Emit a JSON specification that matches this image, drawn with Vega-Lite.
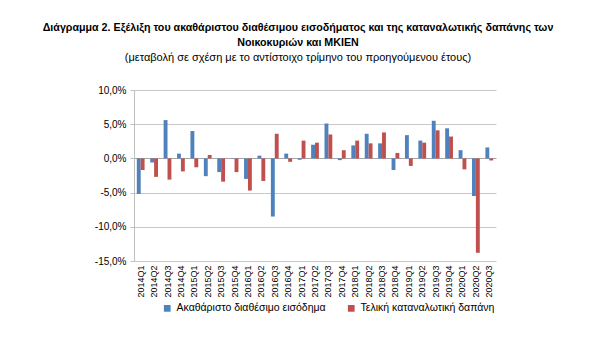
{
  "$schema": "https://vega.github.io/schema/vega-lite/v6.json",
  "autosize": "none",
  "width": 362,
  "height": 171,
  "padding": {"left": 134, "top": 90, "right": 104, "bottom": 96},
  "background": "white",
  "title": {
    "text": ["Διάγραμμα 2. Εξέλιξη του ακαθάριστου διαθέσιμου εισοδήματος και της καταναλωτικής δαπάνης των", "Νοικοκυριών και ΜΚΙΕΝ"],
    "subtitle": "(μεταβολή σε σχέση με το αντίστοιχο τρίμηνο του προηγούμενου έτους)",
    "anchor": "middle",
    "frame": "group",
    "dx": -17,
    "font": "Liberation Sans",
    "fontSize": 10.7,
    "fontWeight": "bold",
    "color": "#000000",
    "lineHeight": 15,
    "subtitleFont": "Liberation Sans",
    "subtitleFontSize": 11,
    "subtitleColor": "#000000",
    "subtitlePadding": 3,
    "offset": 21
  },
  "data": {
    "values": [
      {"q": "2014Q1", "series": "Ακαθάριστο διαθέσιμο εισόδημα", "value": -5.2},
      {"q": "2014Q1", "series": "Τελική καταναλωτική δαπάνη", "value": -1.7},
      {"q": "2014Q2", "series": "Ακαθάριστο διαθέσιμο εισόδημα", "value": -0.6},
      {"q": "2014Q2", "series": "Τελική καταναλωτική δαπάνη", "value": -2.7},
      {"q": "2014Q3", "series": "Ακαθάριστο διαθέσιμο εισόδημα", "value": 5.6},
      {"q": "2014Q3", "series": "Τελική καταναλωτική δαπάνη", "value": -3.1},
      {"q": "2014Q4", "series": "Ακαθάριστο διαθέσιμο εισόδημα", "value": 0.7},
      {"q": "2014Q4", "series": "Τελική καταναλωτική δαπάνη", "value": -1.9},
      {"q": "2015Q1", "series": "Ακαθάριστο διαθέσιμο εισόδημα", "value": 4.0},
      {"q": "2015Q1", "series": "Τελική καταναλωτική δαπάνη", "value": -1.3},
      {"q": "2015Q2", "series": "Ακαθάριστο διαθέσιμο εισόδημα", "value": -2.6},
      {"q": "2015Q2", "series": "Τελική καταναλωτική δαπάνη", "value": 0.5},
      {"q": "2015Q3", "series": "Ακαθάριστο διαθέσιμο εισόδημα", "value": -2.0},
      {"q": "2015Q3", "series": "Τελική καταναλωτική δαπάνη", "value": -3.4},
      {"q": "2015Q4", "series": "Ακαθάριστο διαθέσιμο εισόδημα", "value": -0.05},
      {"q": "2015Q4", "series": "Τελική καταναλωτική δαπάνη", "value": -2.0},
      {"q": "2016Q1", "series": "Ακαθάριστο διαθέσιμο εισόδημα", "value": -3.0},
      {"q": "2016Q1", "series": "Τελική καταναλωτική δαπάνη", "value": -4.7},
      {"q": "2016Q2", "series": "Ακαθάριστο διαθέσιμο εισόδημα", "value": 0.4},
      {"q": "2016Q2", "series": "Τελική καταναλωτική δαπάνη", "value": -3.3},
      {"q": "2016Q3", "series": "Ακαθάριστο διαθέσιμο εισόδημα", "value": -8.5},
      {"q": "2016Q3", "series": "Τελική καταναλωτική δαπάνη", "value": 3.6},
      {"q": "2016Q4", "series": "Ακαθάριστο διαθέσιμο εισόδημα", "value": 0.7},
      {"q": "2016Q4", "series": "Τελική καταναλωτική δαπάνη", "value": -0.5},
      {"q": "2017Q1", "series": "Ακαθάριστο διαθέσιμο εισόδημα", "value": -0.2},
      {"q": "2017Q1", "series": "Τελική καταναλωτική δαπάνη", "value": 2.6},
      {"q": "2017Q2", "series": "Ακαθάριστο διαθέσιμο εισόδημα", "value": 2.0},
      {"q": "2017Q2", "series": "Τελική καταναλωτική δαπάνη", "value": 2.3},
      {"q": "2017Q3", "series": "Ακαθάριστο διαθέσιμο εισόδημα", "value": 5.1},
      {"q": "2017Q3", "series": "Τελική καταναλωτική δαπάνη", "value": 3.5},
      {"q": "2017Q4", "series": "Ακαθάριστο διαθέσιμο εισόδημα", "value": -0.25},
      {"q": "2017Q4", "series": "Τελική καταναλωτική δαπάνη", "value": 1.2},
      {"q": "2018Q1", "series": "Ακαθάριστο διαθέσιμο εισόδημα", "value": 1.9},
      {"q": "2018Q1", "series": "Τελική καταναλωτική δαπάνη", "value": 2.6},
      {"q": "2018Q2", "series": "Ακαθάριστο διαθέσιμο εισόδημα", "value": 3.6},
      {"q": "2018Q2", "series": "Τελική καταναλωτική δαπάνη", "value": 2.2},
      {"q": "2018Q3", "series": "Ακαθάριστο διαθέσιμο εισόδημα", "value": 2.2},
      {"q": "2018Q3", "series": "Τελική καταναλωτική δαπάνη", "value": 3.8},
      {"q": "2018Q4", "series": "Ακαθάριστο διαθέσιμο εισόδημα", "value": -1.7},
      {"q": "2018Q4", "series": "Τελική καταναλωτική δαπάνη", "value": 0.8},
      {"q": "2019Q1", "series": "Ακαθάριστο διαθέσιμο εισόδημα", "value": 3.4},
      {"q": "2019Q1", "series": "Τελική καταναλωτική δαπάνη", "value": -1.1},
      {"q": "2019Q2", "series": "Ακαθάριστο διαθέσιμο εισόδημα", "value": 2.6},
      {"q": "2019Q2", "series": "Τελική καταναλωτική δαπάνη", "value": 2.3},
      {"q": "2019Q3", "series": "Ακαθάριστο διαθέσιμο εισόδημα", "value": 5.5},
      {"q": "2019Q3", "series": "Τελική καταναλωτική δαπάνη", "value": 4.1},
      {"q": "2019Q4", "series": "Ακαθάριστο διαθέσιμο εισόδημα", "value": 4.4},
      {"q": "2019Q4", "series": "Τελική καταναλωτική δαπάνη", "value": 3.2},
      {"q": "2020Q1", "series": "Ακαθάριστο διαθέσιμο εισόδημα", "value": 1.2},
      {"q": "2020Q1", "series": "Τελική καταναλωτική δαπάνη", "value": -1.6},
      {"q": "2020Q2", "series": "Ακαθάριστο διαθέσιμο εισόδημα", "value": -5.5},
      {"q": "2020Q2", "series": "Τελική καταναλωτική δαπάνη", "value": -13.8},
      {"q": "2020Q3", "series": "Ακαθάριστο διαθέσιμο εισόδημα", "value": 1.6},
      {"q": "2020Q3", "series": "Τελική καταναλωτική δαπάνη", "value": -0.3}
    ]
  },
  "mark": {"type": "bar"},
  "encoding": {
    "x": {
      "field": "q", "type": "ordinal", "title": null, "sort": null,
      "scale": {"paddingInner": 0.42, "paddingOuter": 0.21},
      "axis": {
        "labelAngle": -90, "labelFont": "Liberation Sans", "labelFontSize": 9,
        "labelColor": "#000000", "ticks": false, "domain": false, "labelPadding": 4
      }
    },
    "xOffset": {"field": "series", "type": "nominal", "sort": null},
    "y": {
      "field": "value", "type": "quantitative", "title": null,
      "scale": {"domain": [-15, 10], "nice": false},
      "axis": {
        "values": [-15, -10, -5, 0, 5, 10],
        "labelExpr": "replace(format(datum.value, '.1f'), '.', ',') + '%'",
        "labelOverlap": false, "labelBound": false, "labelFlush": false,
        "labelFont": "Liberation Sans", "labelFontSize": 10, "labelColor": "#000000",
        "grid": true, "gridWidth": 1,
        "gridColor": {"condition": {"test": "datum.value === 0", "value": "#a6a6a6"}, "value": "#c8c8c8"},
        "domainColor": "#bfbfbf", "tickColor": "#bfbfbf", "tickSize": 4,
        "labelPadding": 4
      }
    },
    "color": {
      "field": "series", "type": "nominal", "sort": null, "title": null,
      "scale": {"range": ["#4F81BD", "#C0504D"]},
      "legend": {
        "orient": "none", "legendX": 28, "legendY": 213,
        "direction": "horizontal", "symbolType": "square",
        "symbolSize": 45, "labelFont": "Liberation Sans", "labelFontSize": 10.5,
        "labelColor": "#000000", "columnPadding": 20, "labelLimit": 300
      }
    }
  },
  "config": {
    "locale": {"number": {"decimal": ",", "thousands": ".", "grouping": [3], "currency": ["", " €"], "minus": "-"}},
    "view": {"stroke": null}
  }
}
